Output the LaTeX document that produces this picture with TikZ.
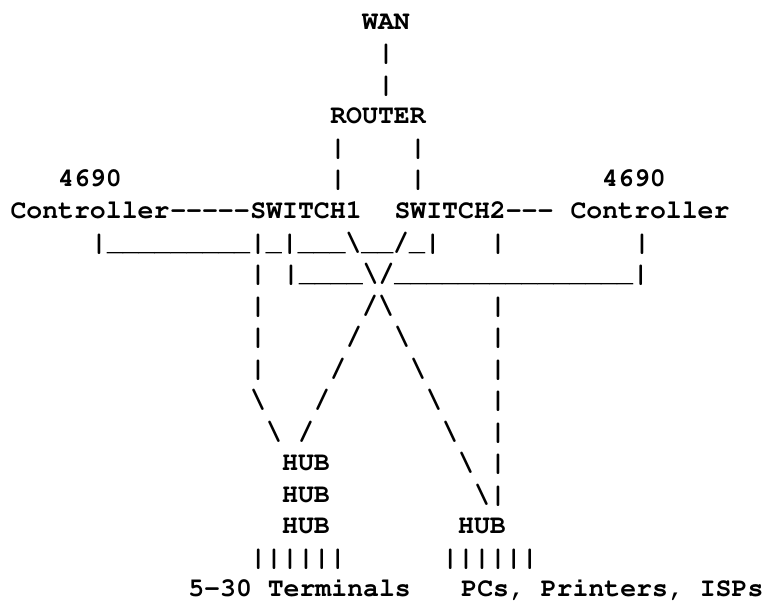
\documentclass[tikz,border=0pt]{standalone}
\usepackage[T1]{fontenc}
\usepackage{courier}
\usepackage{tikz}

\newcommand{\bs}{\textbackslash}
\newcommand{\us}{\_}

\begin{document}
\begin{tikzpicture}[
    x=16pt, y=-31.5pt,
    lbl/.style={anchor=base, inner sep=0pt, font=\fontsize{26.5}{30}\selectfont\ttfamily\bfseries},
    wire/.style={lbl},
]
\useasboundingbox (-18pt,-2pt) rectangle (746pt,-612pt);
% uplink
\node[lbl] (wan) at (23,1) {WAN};
\foreach \r in {2,3} \node[wire] (up\r) at (23,\r) {|};
\node[lbl] (router) at (22.5,4) {ROUTER};
\foreach \r in {5,6} {
    \node[wire] (rl\r) at (20,\r) {|};
    \node[wire] (rr\r) at (25,\r) {|};
}
% switches and controllers
\node[lbl] (id1) at (4.5,6) {4690};
\node[lbl] (id2) at (38.5,6) {4690};
\node[lbl] (ctl1) at (4.5,7) {Controller};
\node[wire] (ln1) at (12,7) {-{}-{}-{}-{}-};
\node[lbl] (sw1) at (18,7) {SWITCH1};
\node[lbl] (sw2) at (28.5,7) {SWITCH2-{}-{}-};
\node[lbl] (ctl2) at (39.5,7) {Controller};
% cabling
\node[wire] (bus1) at (15.5,8) {|\us\us\us\us\us\us\us\us\us|\us|\us\us\us\bs\us\us/\us|};
\node[wire] (bus2) at (28,9) {|\us\us\us\us\bs/\us\us\us\us\us\us\us\us\us\us\us\us\us\us\us|};
\node[wire] (tap) at (39,8) {|};
\foreach \r in {9,...,12} \node[wire] (dl\r) at (15,\r) {|};
\node[wire] (dl13) at (15,13) {\bs};
\node[wire] (dl14) at (16,14) {\bs};
\foreach \r in {8,10,11,...,16} \node[wire] (dr\r) at (30,\r) {|};
\foreach \i in {0,...,4} \node[wire] (xl\i) at (22-\i,10+\i) {/};
\foreach \i in {0,...,6} \node[wire] (xr\i) at (23+\i,10+\i) {\bs};
% hubs
\foreach \r in {15,16,17} \node[lbl] (hub\r) at (18,\r) {HUB};
\node[lbl] (hubB) at (29,17) {HUB};
\node[wire] (drop1) at (17.5,18) {||||||};
\node[wire] (drop2) at (29.5,18) {||||||};
\node[lbl] (term) at (17.6,19) {5-30 Terminals};
\node[lbl] (pcs) at (37.15,19) {PCs, Printers, ISPs};
\end{tikzpicture}
\end{document}
